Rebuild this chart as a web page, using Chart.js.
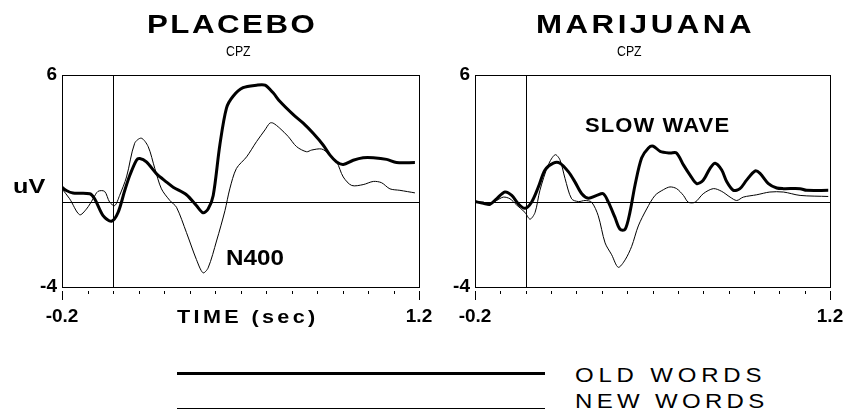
<!DOCTYPE html>
<html>
<head>
<meta charset="utf-8">
<script src="https://cdn.jsdelivr.net/npm/chart.js@4.4.0/dist/chart.umd.min.js"></script>
<style>
  html, body { margin: 0; padding: 0; background: #fff; }
  #wrap { position: relative; width: 857px; height: 418px; overflow: hidden; background: #fff; font-family: "Liberation Sans", Arial, sans-serif; color: #000; }
  canvas { position: absolute; top: 0; }
  .t { position: absolute; line-height: 1; white-space: nowrap; transform-origin: 0 0; }
  .b { font-weight: bold; }
  .lg { position: absolute; background: #000; }
</style>
</head>
<body>
<div id="wrap">
  <canvas id="c1" width="455" height="340" style="left:0px;width:455px;height:340px"></canvas>
  <canvas id="c2" width="453" height="340" style="left:413px;width:453px;height:340px"></canvas>

  <div class="t b" style="left:147px;top:12px;font-size:25px;letter-spacing:2px;transform:scaleX(1.25)">PLACEBO</div>
  <div class="t b" style="left:536px;top:12px;font-size:25px;letter-spacing:2.8px;transform:scaleX(1.25)">MARIJUANA</div>
  <div class="t" style="left:226px;top:43px;font-size:15px;transform:scaleX(0.82)">CPZ</div>
  <div class="t" style="left:617px;top:43px;font-size:15px;transform:scaleX(0.82)">CPZ</div>
  <div class="t b" style="left:13px;top:175px;font-size:21px;transform:scaleX(1.2)">uV</div>
  <div class="t b" style="left:177px;top:308px;font-size:18px;letter-spacing:2.8px;transform:scaleX(1.2)">TIME (sec)</div>
  <div class="t b" style="left:226px;top:247px;font-size:22px;transform:scaleX(1.1)">N400</div>
  <div class="t b" style="left:585px;top:115px;font-size:20px;letter-spacing:1px;transform:scaleX(1.1)">SLOW WAVE</div>

  <div class="lg" style="left:177px;top:372px;width:368px;height:3px"></div>
  <div class="lg" style="left:177px;top:408px;width:368px;height:1px"></div>
  <div class="t" style="left:575px;top:365px;font-size:20px;letter-spacing:4px;transform:scaleX(1.2)">OLD WORDS</div>
  <div class="t" style="left:575px;top:391px;font-size:20px;letter-spacing:3.6px;transform:scaleX(1.2)">NEW WORDS</div>
</div>
<script>
// ---- Data (time in seconds, amplitude in microvolts) ----
const xTicks = [-0.2, -0.1, 0, 0.1, 0.2, 0.3, 0.4, 0.5, 0.6, 0.7, 0.8, 0.9, 1.0, 1.1, 1.2];
const xTickLabels = ["-0.2", "1.2"];
const yTicks = [-4, 6];

const placeboOldTime = [-0.200,-0.183,-0.157,-0.091,-0.072,-0.039,-0.006,0.020,0.046,0.066,0.092,0.105,0.131,0.170,0.210,0.236,0.288,0.327,0.353,0.373,0.393,0.419,0.445,0.471,0.510,0.563,0.596,0.628,0.654,0.707,0.746,0.785,0.824,0.851,0.877,0.903,0.942,0.981,1.021,1.073,1.112,1.184];
const placeboOldUv   = [0.71,0.55,0.43,0.40,0.16,-0.63,-0.90,-0.48,0.55,1.27,1.98,2.06,1.90,1.35,0.95,0.71,0.35,-0.16,-0.50,-0.32,0.32,2.70,4.44,5.00,5.40,5.52,5.52,5.16,4.76,4.13,3.73,3.25,2.70,2.22,1.90,1.78,1.98,2.10,2.10,2.02,1.87,1.87];

const placeboNewTime = [-0.200,-0.170,-0.131,-0.104,-0.078,-0.059,-0.033,-0.013,0.007,0.026,0.053,0.085,0.111,0.138,0.164,0.190,0.223,0.249,0.288,0.327,0.353,0.373,0.406,0.439,0.458,0.484,0.524,0.563,0.596,0.615,0.628,0.654,0.687,0.720,0.759,0.779,0.818,0.844,0.877,0.903,0.936,0.981,1.021,1.053,1.086,1.125,1.184];
const placeboNewUv   = [0.63,0.16,-0.59,-0.32,0.16,0.51,0.51,0.00,-0.16,0.32,1.19,2.78,3.02,2.62,1.59,0.63,0.08,-0.24,-1.43,-2.70,-3.33,-3.10,-1.83,-0.40,0.63,1.59,2.14,2.86,3.41,3.73,3.73,3.49,3.10,2.62,2.38,2.46,2.51,2.30,1.90,1.19,0.79,0.83,0.98,0.92,0.63,0.56,0.44];

const marijuanaOldTime = [-0.200,-0.167,-0.141,-0.115,-0.082,-0.055,-0.029,-0.003,0.023,0.050,0.076,0.109,0.135,0.168,0.194,0.221,0.247,0.280,0.306,0.326,0.352,0.372,0.392,0.411,0.431,0.457,0.484,0.503,0.530,0.569,0.595,0.622,0.648,0.674,0.700,0.727,0.747,0.773,0.793,0.819,0.845,0.871,0.904,0.924,0.957,0.990,1.016,1.082,1.108,1.193];
const marijuanaOldUv   = [0.03,-0.05,-0.10,0.16,0.48,0.32,-0.08,-0.29,0.00,0.72,1.52,1.84,1.84,1.44,0.96,0.40,0.19,0.32,0.40,0.00,-0.72,-1.28,-1.28,-0.48,0.80,2.08,2.56,2.64,2.40,2.32,2.32,1.76,1.28,0.88,1.04,1.60,1.84,1.52,0.96,0.56,0.64,1.04,1.47,1.36,0.88,0.67,0.64,0.64,0.56,0.56];

const marijuanaNewTime = [-0.200,-0.167,-0.141,-0.115,-0.088,-0.062,-0.036,-0.003,0.017,0.037,0.056,0.089,0.116,0.135,0.155,0.181,0.208,0.234,0.260,0.286,0.313,0.339,0.365,0.392,0.418,0.444,0.477,0.510,0.543,0.569,0.595,0.622,0.641,0.668,0.700,0.740,0.773,0.806,0.832,0.858,0.911,0.963,1.016,1.082,1.193];
const marijuanaNewUv   = [0.03,0.00,-0.08,0.08,0.24,0.16,-0.13,-0.48,-0.80,-0.48,0.56,1.76,2.24,2.00,1.12,0.16,0.03,0.08,0.00,-0.64,-1.92,-2.48,-3.07,-2.72,-2.08,-1.12,-0.32,0.32,0.59,0.72,0.64,0.32,0.00,0.00,0.40,0.64,0.51,0.24,0.08,0.24,0.35,0.48,0.48,0.32,0.27];

function pts(t, v) { return t.map((x, i) => ({ x: x, y: v[i] })); }

const framePlugin = {
  id: 'frame',
  beforeDatasetsDraw(chart) {
    const ctx = chart.ctx, a = chart.chartArea;
    const xs = chart.scales.x, ys = chart.scales.y;
    ctx.save();
    ctx.strokeStyle = '#000';
    ctx.lineWidth = 1;
    const y0 = Math.round(ys.getPixelForValue(0)) + 0.5;
    ctx.beginPath(); ctx.moveTo(a.left, y0); ctx.lineTo(a.right, y0); ctx.stroke();
    const x0 = Math.round(xs.getPixelForValue(0)) + 0.5;
    ctx.beginPath(); ctx.moveTo(x0, a.top); ctx.lineTo(x0, a.bottom); ctx.stroke();
    ctx.restore();
  },
  afterDatasetsDraw(chart) {
    const ctx = chart.ctx, a = chart.chartArea;
    const xs = chart.scales.x;
    ctx.save();
    ctx.strokeStyle = '#000';
    ctx.lineWidth = 1;
    ctx.strokeRect(Math.round(a.left) + 0.5, Math.round(a.top) + 0.5, Math.round(a.right - a.left), Math.round(a.bottom - a.top));
    xs.ticks.forEach((tk, i) => {
      const px = Math.round(xs.getPixelForValue(tk.value)) + 0.5;
      const end = (i === 0 || i === xs.ticks.length - 1);
      ctx.beginPath();
      ctx.moveTo(px, a.bottom + 4);
      ctx.lineTo(px, a.bottom + (end ? 13 : 7));
      ctx.stroke();
    });
    ctx.restore();
  }
};

function makeChart(id, oldT, oldV, newT, newV, rightPad) {
  return new Chart(document.getElementById(id), {
    type: 'line',
    data: {
      datasets: [
        { label: 'OLD WORDS', data: pts(oldT, oldV), borderColor: '#000', borderWidth: 3, pointRadius: 0, tension: 0.3, fill: false },
        { label: 'NEW WORDS', data: pts(newT, newV), borderColor: '#000', borderWidth: 1, pointRadius: 0, tension: 0.3, fill: false }
      ]
    },
    options: {
      responsive: false,
      animation: false,
      events: [],
      layout: { padding: { top: 75, right: rightPad, left: 0, bottom: 0 } },
      plugins: { legend: { display: false }, tooltip: { enabled: false } },
      scales: {
        x: {
          type: 'linear', min: -0.2, max: 1.2,
          afterBuildTicks(s) { s.ticks = xTicks.map(v => ({ value: v })); },
          afterFit(s) { s.height = 53; },
          grid: { display: false, drawTicks: false },
          border: { display: false },
          ticks: {
            autoSkip: false, maxRotation: 0, padding: 18, color: '#000',
            font: { family: 'Liberation Sans, Arial, sans-serif', size: 19, weight: 'bold' },
            callback(v) { const s = (Math.round(v * 10) / 10).toFixed(1); return xTickLabels.includes(s) ? s : ''; }
          }
        },
        y: {
          min: -4, max: 6,
          afterBuildTicks(s) { s.ticks = yTicks.map(v => ({ value: v })); },
          afterFit(s) { s.width = 62; },
          grid: { display: false, drawTicks: false },
          border: { display: false },
          ticks: {
            padding: 5, color: '#000',
            font: { family: 'Liberation Sans, Arial, sans-serif', size: 19, weight: 'bold' },
            callback(v) { return String(v); }
          }
        }
      }
    },
    plugins: [framePlugin]
  });
}

makeChart('c1', placeboOldTime, placeboOldUv, placeboNewTime, placeboNewUv, 36);
makeChart('c2', marijuanaOldTime, marijuanaOldUv, marijuanaNewTime, marijuanaNewUv, 36);
</script>
</body>
</html>
